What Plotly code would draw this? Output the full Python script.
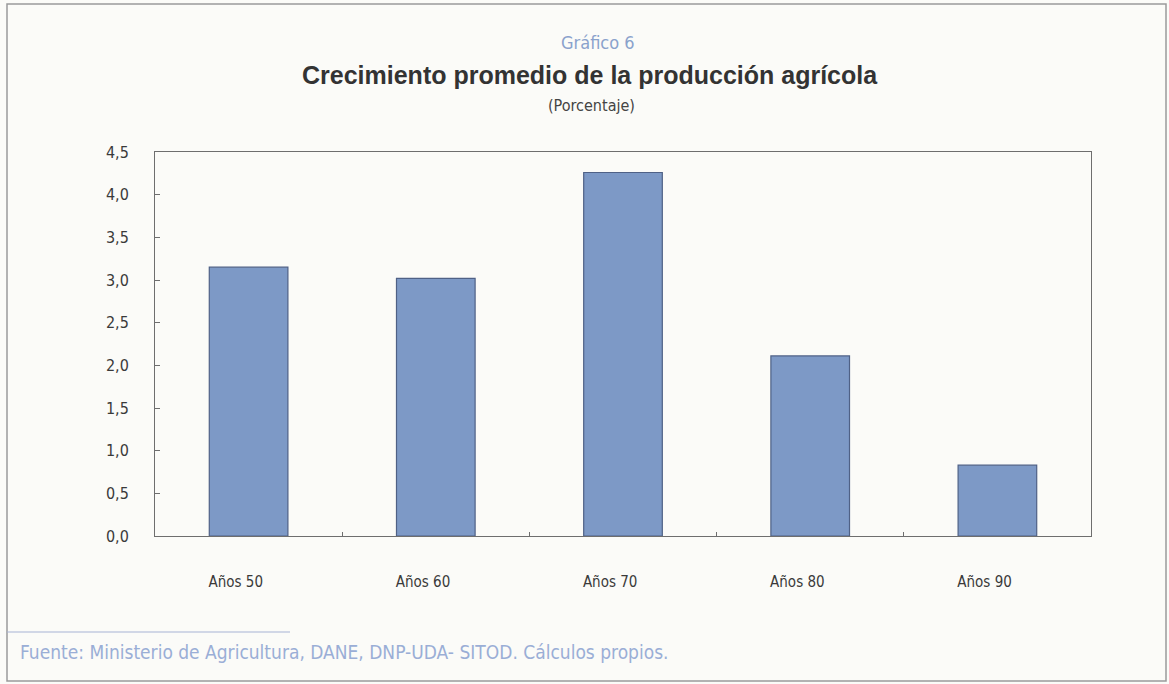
import plotly.graph_objects as go

# Average growth of agricultural production, by decade (%)
decades = ["Años 50", "Años 60", "Años 70", "Años 80", "Años 90"]
growth = [3.15, 3.02, 4.26, 2.11, 0.83]

y_ticks = [0, 0.5, 1.0, 1.5, 2.0, 2.5, 3.0, 3.5, 4.0, 4.5]

FONT = "DejaVu Sans Condensed, Liberation Sans, Arial, sans-serif"
TITLE_FONT = "Liberation Sans, Arial, sans-serif"
AXIS_GREY = "#6e6e6e"

# plot area in pixels
L, R, T, B = 155, 1091, 152, 536
W, H = R - L, B - T


def px_x(x):
    return (x - L) / W


def px_y(y):
    return (B - y) / H


fig = go.Figure(
    go.Bar(
        x=decades,
        y=growth,
        width=0.42,
        marker=dict(color="#7d99c6", line=dict(color="#4f6186", width=1.2)),
    )
)

fig.update_layout(
    width=1169,
    height=684,
    margin=dict(l=L, r=1169 - R, t=T, b=684 - B),
    paper_bgcolor="#fbfbf8",
    plot_bgcolor="#fbfbf8",
    separators=",.",
    showlegend=False,
    font=dict(family=FONT, color="#3a3a3a", size=14),
)

fig.update_yaxes(
    range=[0, 4.5],
    tickvals=y_ticks,
    tickformat=".1f",
    ticks="inside",
    ticklen=5,
    tickcolor=AXIS_GREY,
    showgrid=False,
    zeroline=False,
    showline=True,
    linecolor=AXIS_GREY,
    linewidth=1,
    mirror=True,
    ticklabelstandoff=22,
    tickfont=dict(size=16, color="#3a3a3a"),
)

fig.update_xaxes(
    tickson="boundaries",
    ticks="inside",
    ticklen=4,
    tickcolor=AXIS_GREY,
    showgrid=False,
    showline=True,
    linecolor=AXIS_GREY,
    linewidth=1,
    mirror=True,
    ticklabelstandoff=32,
    ticksuffix="\u00a0" * 6,
    tickfont=dict(size=15, color="#3a3a3a"),
)

# Headings, centred on the page
headings = [
    ("Gráfico 6", 598, 42, dict(size=18, color="#8aa2cc", family=FONT)),
    ("<b>Crecimiento promedio de la producción agrícola</b>", 590, 75,
     dict(size=25, color="#333333", family=TITLE_FONT)),
    ("(Porcentaje)", 591, 105, dict(size=16, color="#444444", family=FONT)),
]
for text, xpx, ypx, f in headings:
    fig.add_annotation(
        text=text,
        x=px_x(xpx), xref="paper",
        y=px_y(ypx), yref="paper",
        xanchor="center", yanchor="middle",
        showarrow=False,
        font=f,
    )

# Source note
fig.add_annotation(
    text="Fuente: Ministerio de Agricultura, DANE, DNP-UDA- SITOD. Cálculos propios.",
    x=px_x(18), xref="paper",
    y=px_y(652), yref="paper",
    xanchor="left", yanchor="middle",
    showarrow=False,
    font=dict(family=FONT, size=19, color="#9aaed6"),
)

# Page frame and separator line above the source note
fig.add_shape(type="rect", xref="paper", yref="paper",
              x0=px_x(7), x1=px_x(1166), y0=px_y(681), y1=px_y(4),
              line=dict(color="#9a9a9a", width=1.5))
fig.add_shape(type="line", xref="paper", yref="paper",
              x0=px_x(7), x1=px_x(290), y0=px_y(632), y1=px_y(632),
              line=dict(color="#a8b4d4", width=1.2))

fig.write_html("out.html")
